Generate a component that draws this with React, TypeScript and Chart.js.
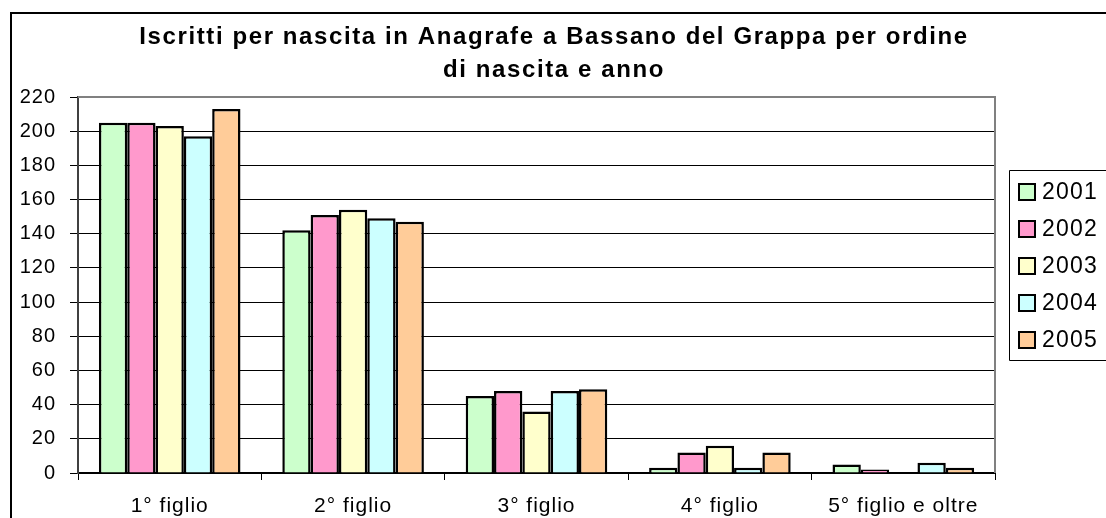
import React, { useEffect, useRef } from "react";
import { Chart, registerables } from "chart.js";

Chart.register(...registerables);

const categories = ["1° figlio", "2° figlio", "3° figlio", "4° figlio", "5° figlio e oltre"];
const seriesLabels = ["2001", "2002", "2003", "2004", "2005"];
const values2001 = [205, 142, 45, 3, 5];
const values2002 = [205, 151, 48, 12, 2];
const values2003 = [203, 154, 36, 16, 0];
const values2004 = [197, 149, 48, 3, 6];
const values2005 = [213, 147, 49, 12, 3];
const seriesColors = ["#CCFFCC", "#FF99CC", "#FFFFCC", "#CCFFFF", "#FFCC99"];
const yMin = 0;
const yMax = 220;
const yStep = 20;
const titleLines = [
  "Iscritti per nascita in Anagrafe a Bassano del Grappa per ordine",
  "di nascita e anno",
];

const FONT = "'Liberation Sans', Arial, sans-serif";

const decorPlugin = {
  id: "decor",
  beforeUpdate(chart: any) {
    chart.ctx.letterSpacing = "1px";
  },
  beforeDraw(chart: any) {
    chart.ctx.letterSpacing = "1px";
  },
  afterDatasetsDraw(chart: any) {
    const ctx = chart.ctx;
    const a = chart.chartArea;
    ctx.save();
    ctx.strokeStyle = "#808080";
    ctx.lineWidth = 2;
    ctx.beginPath();
    ctx.moveTo(a.left, a.top);
    ctx.lineTo(a.right, a.top);
    ctx.lineTo(a.right, a.bottom);
    ctx.stroke();
    ctx.restore();
  },
  afterDraw(chart: any) {
    const ctx = chart.ctx;
    ctx.save();
    // outer frame
    ctx.strokeStyle = "#000";
    ctx.lineWidth = 2;
    ctx.beginPath();
    ctx.moveTo(11, chart.height + 2);
    ctx.lineTo(11, 13);
    ctx.lineTo(chart.width + 2, 13);
    ctx.stroke();
    // title
    ctx.fillStyle = "#000";
    ctx.font = "bold 24px " + FONT;
    ctx.letterSpacing = "1.6px";
    ctx.textAlign = "center";
    ctx.textBaseline = "alphabetic";
    titleLines.forEach((line, i) => {
      ctx.fillText(line, 554, 43.5 + i * 33.5);
    });
    // legend box
    ctx.lineWidth = 1;
    ctx.beginPath();
    ctx.moveTo(chart.width + 2, 170.5);
    ctx.lineTo(1009.5, 170.5);
    ctx.lineTo(1009.5, 360.5);
    ctx.lineTo(chart.width + 2, 360.5);
    ctx.stroke();
    // legend items
    ctx.font = "23px " + FONT;
    ctx.letterSpacing = "1.2px";
    ctx.textBaseline = "middle";
    ctx.textAlign = "left";
    chart.data.datasets.forEach((ds: any, i: number) => {
      const cy = 192 + i * 37;
      ctx.fillStyle = ds.backgroundColor;
      ctx.fillRect(1019, cy - 8, 16, 16);
      ctx.lineWidth = 2;
      ctx.strokeStyle = "#000";
      ctx.strokeRect(1019, cy - 8, 16, 16);
      ctx.fillStyle = "#000";
      ctx.fillText(ds.label, 1042, cy + 1);
    });
    ctx.restore();
  },
};

export default function App() {
  const ref = useRef<HTMLCanvasElement>(null);
  useEffect(() => {
    if (!ref.current) return;
    const allValues = [values2001, values2002, values2003, values2004, values2005];
    const chart = new Chart(ref.current, {
      type: "bar",
      data: {
        labels: categories,
        datasets: seriesLabels.map((lab, i) => ({
          label: lab,
          data: allValues[i],
          backgroundColor: seriesColors[i],
          borderColor: "#000",
          borderWidth: 2.5,
          borderSkipped: "start",
          categoryPercentage: 0.772,
          barPercentage: 1,
        })),
      },
      options: {
        responsive: false,
        animation: false,
        devicePixelRatio: 1,
        layout: { padding: { left: 0, right: 111, top: 97, bottom: 0 } },
        plugins: {
          legend: { display: false },
          tooltip: { enabled: false },
          title: { display: false },
        },
        scales: {
          x: {
            offset: true,
            afterFit: (s: any) => {
              s.height = 45;
            },
            grid: {
              offset: true,
              drawOnChartArea: false,
              drawTicks: true,
              tickLength: 7,
              tickColor: "#000",
              lineWidth: 1,
            },
            border: { color: "#000", width: 2 },
            ticks: {
              color: "#000",
              padding: 14,
              font: { family: FONT, size: 21 },
              maxRotation: 0,
            },
          },
          y: {
            min: yMin,
            max: yMax,
            afterFit: (s: any) => {
              s.width = 78;
            },
            grid: {
              color: "#000",
              lineWidth: 1,
              drawTicks: true,
              tickLength: 8,
              tickColor: "#000",
            },
            border: { color: "#404040", width: 2 },
            ticks: {
              stepSize: yStep,
              color: "#000",
              padding: 14,
              font: { family: FONT, size: 20 },
            },
          },
        },
      },
      plugins: [decorPlugin],
    });
    return () => chart.destroy();
  }, []);
  return (
    <div style={{ position: "fixed", left: 0, top: 0, width: 1106, height: 518, background: "#fff" }}>
      <canvas ref={ref} width={1106} height={518} style={{ display: "block", width: 1106, height: 518 }} />
    </div>
  );
}
